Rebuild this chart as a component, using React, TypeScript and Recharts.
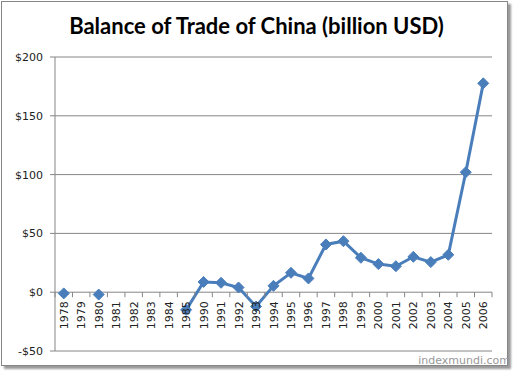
import { LineChart, Line, XAxis, YAxis, CartesianGrid } from 'recharts';

const years = [
  '1978', '1979', '1980', '1981', '1982', '1983', '1984', '1985',
  '1990', '1991', '1992', '1993', '1994', '1995', '1996', '1997',
  '1998', '1999', '2000', '2001', '2002', '2003', '2004', '2005', '2006',
];
const balance: (number | null)[] = [
  -1, null, -2, null, null, null, null, -15,
  8.7, 8, 4, -12.2, 5.4, 16.5, 11.7, 40.6,
  43.4, 29.3, 23.9, 22.1, 30.1, 25.6, 31.8, 102, 177.6,
];
const yTicks = [-50, 0, 50, 100, 150, 200];

const W = 513;
const H = 372;
const M = { top: 57, right: 21, bottom: 0, left: 10 };
const Y_AXIS_W = 45;
const X_AXIS_H = 21;
const PLOT_W = W - M.left - M.right - Y_AXIS_W;
const PLOT_H = H - M.top - M.bottom - X_AXIS_H;
const ZERO_Y = M.top + (PLOT_H * (200 - 0)) / (200 - -50);
const STEP = PLOT_W / years.length;

const BLUE = '#4a7ebb';
const GRID = '#868686';
const FONT = '"DejaVu Sans", Tahoma, sans-serif';

const chartData = years.map((year, i) => ({ year, value: balance[i] }));

const money = (v: number) => (v < 0 ? `-$${Math.abs(v)}` : `$${v}`);

const Diamond = ({ cx, cy, value }: { cx?: number; cy?: number; value?: number | null }) => {
  if (value == null || cx == null || cy == null) return null;
  const r = 5.5;
  return (
    <path
      d={`M${cx},${cy - r}L${cx + r},${cy}L${cx},${cy + r}L${cx - r},${cy}Z`}
      fill={BLUE}
      stroke={BLUE}
    />
  );
};

const YearTick = ({ x, payload, index }: { x?: number; payload?: { value: string }; index?: number }) => {
  const px = x ?? 0;
  const last = index === years.length - 1;
  return (
    <g>
      <line x1={px - STEP / 2} x2={px - STEP / 2} y1={ZERO_Y} y2={ZERO_Y + 5} stroke={GRID} />
      {last && (
        <line x1={px + STEP / 2} x2={px + STEP / 2} y1={ZERO_Y} y2={ZERO_Y + 5} stroke={GRID} />
      )}
      <text
        transform={`translate(${px + 4}, ${ZERO_Y + 9}) rotate(-90)`}
        textAnchor="end"
        fontSize={11}
        fontFamily={FONT}
        fill="#222"
      >
        {payload?.value}
      </text>
    </g>
  );
};

const App = () => (
  <div style={{ position: 'absolute', left: 0, top: 0, width: W, height: H, background: '#fff' }}>
    <div
      style={{
        position: 'absolute',
        left: 1,
        top: 1,
        width: 505,
        height: 363,
        border: `1px solid ${GRID}`,
        boxShadow: '3px 3px 2px #9a9a9a',
      }}
    />
    <div
      style={{
        position: 'absolute',
        left: 0,
        top: 12,
        width: W,
        textAlign: 'center',
        fontFamily: 'Lato, "Open Sans", sans-serif',
        fontWeight: 700,
        fontSize: 22,
        color: '#000',
      }}
    >
      Balance of Trade of China (billion USD)
    </div>
    <LineChart
      width={W}
      height={H}
      data={chartData}
      margin={M}
      style={{ position: 'absolute', left: 0, top: 0 }}
    >
      <CartesianGrid vertical={false} stroke={GRID} strokeDasharray="" />
      <XAxis
        dataKey="year"
        height={X_AXIS_H}
        axisLine={false}
        tickLine={false}
        interval={0}
        padding={{ left: STEP / 2, right: STEP / 2 }}
        tick={<YearTick />}
      />
      <YAxis
        width={Y_AXIS_W}
        domain={[-50, 200]}
        ticks={yTicks}
        tickFormatter={money}
        axisLine={{ stroke: GRID }}
        tickLine={{ stroke: GRID }}
        tickSize={5}
        tickMargin={7}
        tick={{ fontSize: 11, fontFamily: FONT, fill: '#222' }}
      />
      <Line
        dataKey="value"
        stroke={BLUE}
        strokeWidth={3}
        dot={<Diamond />}
        activeDot={false}
        connectNulls={false}
        isAnimationActive={false}
      />
    </LineChart>
    <div
      style={{
        position: 'absolute',
        right: 3,
        top: 354,
        fontFamily: FONT,
        fontSize: 11,
        color: '#999',
      }}
    >
      indexmundi.com
    </div>
  </div>
);

export default App;
